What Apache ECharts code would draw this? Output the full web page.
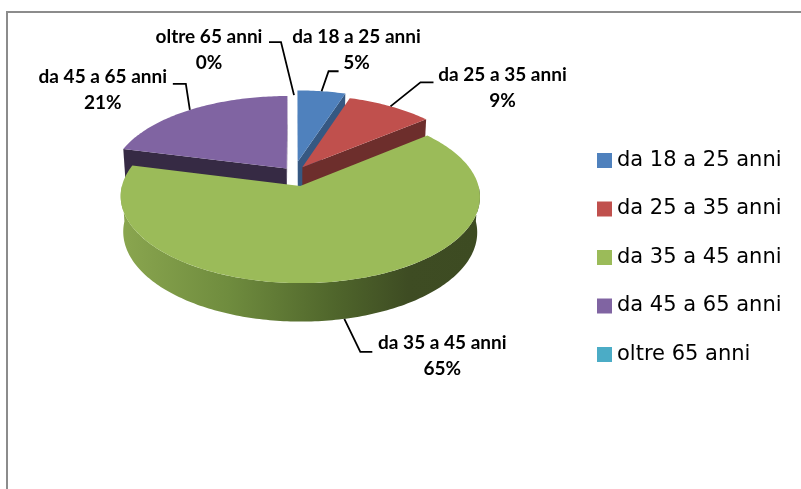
<!DOCTYPE html>
<html>
<head>
<meta charset="utf-8">
<script src="https://cdn.jsdelivr.net/npm/echarts@6/dist/echarts.min.js"></script>
<style>
  html, body { margin: 0; padding: 0; background: #fff; }
  #chart { width: 801px; height: 489px; }
</style>
</head>
<body>
<div id="chart"></div>
<script>
var categories = ['da 18 a 25 anni', 'da 25 a 35 anni', 'da 35 a 45 anni', 'da 45 a 65 anni', 'oltre 65 anni'];
var values = [5, 9, 65, 21, 0];
var colors = ['#4F81BD', '#C0504D', '#9BBB59', '#8064A2', '#4BACC6'];

// 3d pie layout (pixels)
var cx = 294, cy = 173, R = 175, H = 40;
var tilt = 28 * Math.PI / 180, dist = 1300;
var sinA = Math.sin(tilt), cosA = Math.cos(tilt);
var explode = [25, 15, 28, 12, 12];
// leader: elbow dx, elbow dy, horizontal length, label dx, label dy
var leaders = [
  [7, -20, 10, 18, -21.5],
  [30, -24, 13, 69, 6],
  [16, 33, 12, 70, 4],
  [-4, -26, -13, -70, 6],
  [-13, -53, -12, -60, 8]
];

var total = values.reduce(function (a, b) { return a + b; }, 0);
var starts = [];
var acc = 0;
values.forEach(function (v) { starts.push(acc / total); acc += v; });

function proj(X, Y, Z) {
  var yc = Y * cosA + Z * sinA;
  var zc = Z * cosA - Y * sinA;
  var s = dist / (dist + zc);
  return [cx + X * s, cy - yc * s, zc];
}

function shade(hex, k) {
  var n = parseInt(hex.slice(1), 16);
  var r = Math.round(((n >> 16) & 255) * k);
  var g = Math.round(((n >> 8) & 255) * k);
  var b = Math.round((n & 255) * k);
  return 'rgb(' + r + ',' + g + ',' + b + ')';
}

// brightness of a wall by the direction its face points (deg, clockwise from back)
function wallShade(phi) {
  var t = [[0, 0.9], [90, 0.75], [140, 0.57], [194, 0.42], [230, 0.6], [270, 0.98], [360, 0.9]];
  phi = ((phi % 360) + 360) % 360;
  for (var i = 1; i < t.length; i++) {
    if (phi <= t[i][0]) {
      var f = (phi - t[i - 1][0]) / (t[i][0] - t[i - 1][0]);
      return t[i - 1][1] + f * (t[i][1] - t[i - 1][1]);
    }
  }
  return 0.9;
}

var camZ = -dist * cosA;

function renderItem(params, api) {
  var idx = params.dataIndex;
  var v = api.value(0);
  var a0 = starts[idx] * Math.PI * 2;
  var a1 = a0 + v / total * Math.PI * 2;
  var m = (a0 + a1) / 2;
  var e = explode[idx];
  var ox = e * Math.sin(m), oz = e * Math.cos(m);
  var color = colors[idx];
  function pt(r, th, Y) {
    return proj(ox + r * Math.sin(th), Y, oz + r * Math.cos(th));
  }
  function xy(p) { return [p[0], p[1]]; }
  var children = [];

  if (a1 > a0) {
    var n = Math.max(2, Math.ceil((a1 - a0) / (Math.PI / 180)));
    var top = [xy(pt(0, 0, 0))];
    for (var i = 0; i <= n; i++) top.push(xy(pt(R, a0 + (a1 - a0) * i / n, 0)));
    children.push({ type: 'polygon', z2: 20, shape: { points: top }, style: { fill: color } });

    // outer side, front part only
    var s0 = Math.max(a0, Math.PI / 2), s1 = Math.min(a1, Math.PI * 1.5);
    if (s1 > s0) {
      var k = Math.max(2, Math.ceil((s1 - s0) / (Math.PI / 180)));
      var upper = [], lower = [];
      for (var j = 0; j <= k; j++) {
        var th = s0 + (s1 - s0) * j / k;
        upper.push(xy(pt(R, th, 0)));
        lower.unshift(xy(pt(R, th, -H)));
      }
      var fill = idx === 2 ? new echarts.graphic.LinearGradient(0, 0, 1, 0, [
        { offset: 0, color: '#8aa64f' },
        { offset: 0.3, color: '#6f8c3e' },
        { offset: 0.6, color: '#4f652b' },
        { offset: 0.8, color: '#3e4c23' },
        { offset: 1, color: '#3d4b22' }
      ]) : shade(color, 0.6);
      children.push({ type: 'polygon', z2: 1, shape: { points: upper.concat(lower) }, style: { fill: fill } });
    }

    // radial walls
    [[a0, -1], [a1, 1]].forEach(function (w) {
      var th = w[0], dir = w[1];
      var nx = dir * Math.cos(th), nz = -dir * Math.sin(th);
      var px = ox + R / 2 * Math.sin(th), py = -H / 2, pz = oz + R / 2 * Math.cos(th);
      var dot = nx * (0 - px) + nz * (camZ - pz);
      if (dot <= 0) return;
      var phi = (th + dir * Math.PI / 2) * 180 / Math.PI;
      var mid = proj(px, py, pz);
      children.push({
        type: 'polygon',
        z2: 10 - mid[2] / 100,
        shape: { points: [xy(pt(0, th, 0)), xy(pt(R, th, 0)), xy(pt(R, th, -H)), xy(pt(0, th, -H))] },
        style: { fill: shade(color, wallShade(phi)) }
      });
    });
  }

  // leader line and label
  var back = Math.cos(m) >= 0;
  var st = pt(R, m, back ? 0 : -H);
  var L = leaders[idx];
  var elbow = [st[0] + L[0], st[1] + L[1]];
  var end = [elbow[0] + L[2], elbow[1]];
  children.push({
    type: 'polyline', z2: 30,
    shape: { points: [xy(st), elbow, end] },
    style: { stroke: '#000', lineWidth: 1.8, fill: null }
  });
  var pct = Math.round(v / total * 100);
  children.push({
    type: 'text', z2: 31,
    style: {
      text: categories[idx] + '\n' + pct + '%',
      x: end[0] + L[3], y: end[1] + L[4],
      align: 'center', verticalAlign: 'middle',
      fontFamily: 'Lato', fontWeight: 'bold', fontSize: 19, lineHeight: 26,
      fill: '#000'
    }
  });

  return { type: 'group', children: children };
}

var chart = echarts.init(document.getElementById('chart'));
chart.setOption({
  animation: false,
  color: colors,
  graphic: [{
    type: 'rect', z: -10,
    shape: { x: 7, y: 12, width: 900, height: 600 },
    style: { fill: 'none', stroke: '#8c8c8c', lineWidth: 2 }
  }],
  legend: {
    orient: 'vertical',
    left: 592,
    top: 145,
    icon: 'rect',
    itemWidth: 15,
    itemHeight: 15,
    itemGap: 27.5,
    selectedMode: false,
    textStyle: { fontFamily: 'DejaVu Sans', fontSize: 21, color: '#000', lineHeight: 20 },
    data: categories
  },
  series: [
    {
      type: 'custom',
      coordinateSystem: 'none',
      renderItem: renderItem,
      data: values.map(function (v, i) { return { name: categories[i], value: v }; })
    },
    {
      type: 'pie',
      silent: true,
      radius: 0,
      center: [-500, -500],
      label: { show: false },
      labelLine: { show: false },
      data: values.map(function (v, i) { return { name: categories[i], value: v }; })
    }
  ]
});
</script>
</body>
</html>
